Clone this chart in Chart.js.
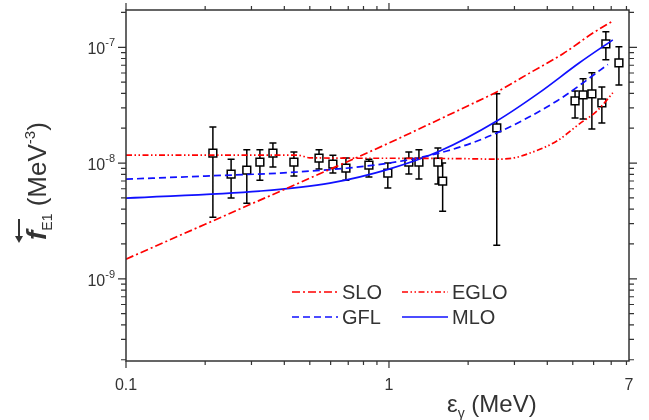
<!DOCTYPE html>
<html lang="en">
<head>
  <meta charset="UTF-8" />
  <title>E1 photon strength function</title>
  <script src="https://cdn.jsdelivr.net/npm/chart.js"></script>
  <style>
    html, body { margin: 0; padding: 0; background: #fff; }
  </style>
</head>
<body>
  <canvas id="chart" width="649" height="420"></canvas>

  <script>
    // model curves: gamma energy (MeV) vs strength (MeV^-3)
    const sloE = [0.1, 0.2, 0.5, 1, 1.43, 2, 2.57, 3.5, 4.59, 6, 7.1];
    const sloF = [1.48e-9, 2.96e-9, 7.4e-9, 1.49e-8, 2.18e-8, 3.13e-8, 4.12e-8, 6.16e-8, 8.8e-8, 1.34e-7, 1.69e-7];
    const egloE = [0.1, 0.45, 0.5, 1, 2, 2.57, 3.0, 3.44, 4.35, 5.3, 6.18, 7.1];
    const egloF = [1.17e-8, 1.17e-8, 1.11e-8, 1.1e-8, 1.09e-8, 1.08e-8, 1.11e-8, 1.22e-8, 1.55e-8, 2.18e-8, 2.82e-8, 4.04e-8];
    const gflE = [0.1, 0.2, 0.46, 1, 1.66, 2.57, 4.35, 6.8];
    const gflF = [7.26e-9, 7.72e-9, 8.4e-9, 1.0e-8, 1.27e-8, 1.82e-8, 3.44e-8, 7.1e-8];
    const mloE = [0.1, 0.323, 0.596, 1, 1.56, 2.57, 3.72, 5.3, 7.1];
    const mloF = [4.98e-9, 5.73e-9, 6.71e-9, 8.87e-9, 1.27e-8, 2.31e-8, 4.04e-8, 7.35e-8, 1.16e-7];

    // experimental points with error bars
    const expE = [0.214, 0.251, 0.288, 0.323, 0.362, 0.435, 0.542, 0.612, 0.686, 0.839, 0.99,
                  1.19, 1.30, 1.535, 1.60, 2.57, 5.10, 5.47, 5.91, 6.45, 6.68, 7.49];
    const expF = [1.22e-8, 8.03e-9, 8.7e-9, 1.02e-8, 1.22e-8, 1.02e-8, 1.105e-8, 9.8e-9, 9.05e-9, 9.61e-9, 8.19e-9,
                  1.02e-8, 1.02e-8, 1.02e-8, 6.98e-9, 2.01e-8, 3.44e-8, 3.88e-8, 3.96e-8, 3.31e-8, 1.07e-7, 7.34e-8];
    const expLo = [3.41e-9, 4.98e-9, 4.5e-9, 7.12e-9, 9.23e-9, 7.72e-9, 8.87e-9, 8.19e-9, 7.12e-9, 7.56e-9, 6.08e-9,
                   8.03e-9, 7.27e-9, 6.58e-9, 3.84e-9, 1.95e-9, 2.45e-8, 2.4e-8, 1.97e-8, 2.22e-8, 7.8e-8, 4.73e-8];
    const expHi = [2.05e-8, 1.08e-8, 1.3e-8, 1.3e-8, 1.49e-8, 1.245e-8, 1.3e-8, 1.17e-8, 1.105e-8, 1.08e-8, 1.0e-8,
                   1.245e-8, 1.3e-8, 1.35e-8, 1.0e-8, 3.96e-8, 4.2e-8, 5.34e-8, 6.02e-8, 4.55e-8, 1.36e-7, 1.01e-7];

    const seriesNames = ['SLO', 'EGLO', 'GFL', 'MLO'];
    const xTickValues = [0.1, 1, 8.18];
    const xTickLabels = ['0.1', '1', '7'];
    const yTickValues = [1e-9, 1e-8, 1e-7];
    const yTickExps = ['-9', '-8', '-7'];

    const FONT = '"Liberation Sans", Arial, sans-serif';
    const AXIS = '#333';
    const RED = '#ff0000';
    const BLUE = '#1010ff';
    const dashes = {
      SLO: [8, 3, 2, 3],
      EGLO: [6, 2.5, 1.5, 2.5, 1.5, 2.5],
      GFL: [7, 4],
      MLO: []
    };

    const pts = (xs, ys) => xs.map((x, i) => ({ x: x, y: ys[i] }));

    function curve(name, xs, ys, color) {
      return {
        label: name,
        data: pts(xs, ys),
        showLine: true,
        borderColor: color,
        borderWidth: 1.7,
        borderDash: dashes[name],
        pointRadius: 0,
        cubicInterpolationMode: 'monotone',
        fill: false
      };
    }

    // 1..9 x 10^n positions for the frame ticks
    function logTicks(lo, hi) {
      const out = [];
      for (let d = Math.floor(Math.log10(lo)); d <= Math.ceil(Math.log10(hi)); d++) {
        for (let m = 1; m <= 9; m++) {
          const v = m * Math.pow(10, d);
          if (v >= lo * 0.999 && v <= hi * 1.001) out.push({ v: v, major: m === 1 });
        }
      }
      return out;
    }

    const frame = {
      id: 'frame',
      afterDraw(chart) {
        const { ctx, chartArea: a, scales: { x, y } } = chart;
        ctx.save();
        ctx.strokeStyle = AXIS;
        ctx.lineWidth = 1.5;
        ctx.strokeRect(a.left, a.top, a.right - a.left, a.bottom - a.top);
        ctx.lineWidth = 1.2;
        ctx.beginPath();
        logTicks(x.min, x.max).forEach(t => {
          const px = x.getPixelForValue(t.v);
          const len = t.major ? 7 : 4;
          ctx.moveTo(px, a.bottom); ctx.lineTo(px, a.bottom + len);
          ctx.moveTo(px, a.top); ctx.lineTo(px, a.top - len);
        });
        logTicks(y.min, y.max).forEach(t => {
          const py = y.getPixelForValue(t.v);
          const len = t.major ? 8 : 5;
          ctx.moveTo(a.left, py); ctx.lineTo(a.left - len, py);
          ctx.moveTo(a.right, py); ctx.lineTo(a.right + len, py);
        });
        ctx.stroke();

        // y tick labels: 10 with superscript exponent
        ctx.fillStyle = AXIS;
        ctx.textBaseline = 'alphabetic';
        yTickValues.forEach((v, i) => {
          const py = y.getPixelForValue(v);
          ctx.font = '11px ' + FONT;
          const ew = ctx.measureText(yTickExps[i]).width;
          ctx.font = '16px ' + FONT;
          const bw = ctx.measureText('10').width;
          const right = a.left - 11;
          ctx.fillText('10', right - ew - bw, py + 7);
          ctx.font = '11px ' + FONT;
          ctx.fillText(yTickExps[i], right - ew, py - 1);
        });
        ctx.restore();
      }
    };

    const errorBars = {
      id: 'errorBars',
      beforeDatasetDraw(chart, args) {
        if (args.index !== 4) return;
        const { ctx, scales: { x, y } } = chart;
        ctx.save();
        ctx.strokeStyle = '#000';
        ctx.lineWidth = 1.5;
        ctx.beginPath();
        expE.forEach((e, i) => {
          const px = x.getPixelForValue(e);
          const top = y.getPixelForValue(expHi[i]);
          const bot = y.getPixelForValue(expLo[i]);
          ctx.moveTo(px, top); ctx.lineTo(px, bot);
          ctx.moveTo(px - 3.5, top); ctx.lineTo(px + 3.5, top);
          ctx.moveTo(px - 3.5, bot); ctx.lineTo(px + 3.5, bot);
        });
        ctx.stroke();
        ctx.restore();
      }
    };

    function drawRich(ctx, parts, x, y) {
      let cx = x;
      parts.forEach(p => {
        ctx.font = (p.style || '') + ' ' + p.size + 'px ' + FONT;
        ctx.fillText(p.t, cx, y + (p.dy || 0));
        cx += ctx.measureText(p.t).width;
      });
      return cx;
    }

    const annotations = {
      id: 'annotations',
      afterDraw(chart) {
        const ctx = chart.ctx;
        ctx.save();
        ctx.fillStyle = AXIS;
        ctx.textBaseline = 'alphabetic';
        ctx.textAlign = 'left';

        // x title
        drawRich(ctx, [
          { t: '\u03B5', size: 24 },
          { t: '\u03B3', size: 14, dy: 6 },
          { t: ' (MeV)', size: 24 }
        ], 447, 412);

        // y title, rotated
        ctx.save();
        ctx.translate(46, 243);
        ctx.rotate(-Math.PI / 2);
        drawRich(ctx, [
          { t: 'f', size: 28, style: 'italic bold' },
          { t: 'E1', size: 14, dy: 6 },
          { t: ' (MeV', size: 26 },
          { t: '-3', size: 15, dy: -11 },
          { t: ')', size: 26 }
        ], 3, 0);
        // left arrow over f
        ctx.strokeStyle = AXIS;
        ctx.lineWidth = 2;
        ctx.beginPath();
        ctx.moveTo(2, -27); ctx.lineTo(24, -27);
        ctx.stroke();
        ctx.beginPath();
        ctx.moveTo(0, -27); ctx.lineTo(7, -31); ctx.lineTo(7, -23); ctx.closePath();
        ctx.fill();
        ctx.restore();

        // legend, two columns
        const items = [
          { name: seriesNames[0], color: RED, x: 292, y: 292 },
          { name: seriesNames[1], color: RED, x: 402, y: 292 },
          { name: seriesNames[2], color: BLUE, x: 292, y: 317 },
          { name: seriesNames[3], color: BLUE, x: 402, y: 317 }
        ];
        items.forEach(it => {
          ctx.strokeStyle = it.color;
          ctx.lineWidth = 1.6;
          ctx.setLineDash(dashes[it.name]);
          ctx.beginPath();
          ctx.moveTo(it.x, it.y); ctx.lineTo(it.x + 46, it.y);
          ctx.stroke();
          ctx.setLineDash([]);
          ctx.font = '20px ' + FONT;
          ctx.textBaseline = 'middle';
          ctx.fillStyle = AXIS;
          ctx.fillText(it.name, it.x + 50, it.y + 1);
        });
        ctx.restore();
      }
    };

    new Chart(document.getElementById('chart').getContext('2d'), {
      type: 'scatter',
      data: {
        datasets: [
          curve('SLO', sloE, sloF, RED),
          curve('EGLO', egloE, egloF, RED),
          curve('GFL', gflE, gflF, BLUE),
          curve('MLO', mloE, mloF, BLUE),
          {
            label: 'data',
            data: pts(expE, expF),
            pointStyle: 'rect',
            pointRadius: 5.5,
            pointBorderWidth: 1.5,
            pointBackgroundColor: '#fff',
            pointBorderColor: '#000',
            showLine: false
          }
        ]
      },
      options: {
        responsive: false,
        animation: false,
        devicePixelRatio: 1,
        layout: { padding: { top: 10, right: 20, left: 0, bottom: 0 } },
        plugins: { legend: { display: false }, tooltip: { enabled: false } },
        scales: {
          x: {
            type: 'logarithmic',
            min: 0.1,
            max: 8.18,
            grid: { display: false },
            border: { display: false },
            afterBuildTicks: s => { s.ticks = xTickValues.map(v => ({ value: v })); },
            afterFit: s => { s.height = 59; s.paddingLeft = 0; s.paddingRight = 0; },
            ticks: {
              autoSkip: false,
              maxRotation: 0,
              padding: 7,
              color: AXIS,
              font: { family: FONT, size: 16 },
              callback: (v, i) => xTickLabels[i]
            }
          },
          y: {
            type: 'logarithmic',
            min: 1.95e-10,
            max: 2.1e-7,
            grid: { display: false },
            border: { display: false },
            afterBuildTicks: s => { s.ticks = yTickValues.map(v => ({ value: v })); },
            afterFit: s => { s.width = 126; s.paddingTop = 0; s.paddingBottom = 0; },
            ticks: { display: false }
          }
        }
      },
      plugins: [frame, errorBars, annotations]
    });
  </script>
</body>
</html>
